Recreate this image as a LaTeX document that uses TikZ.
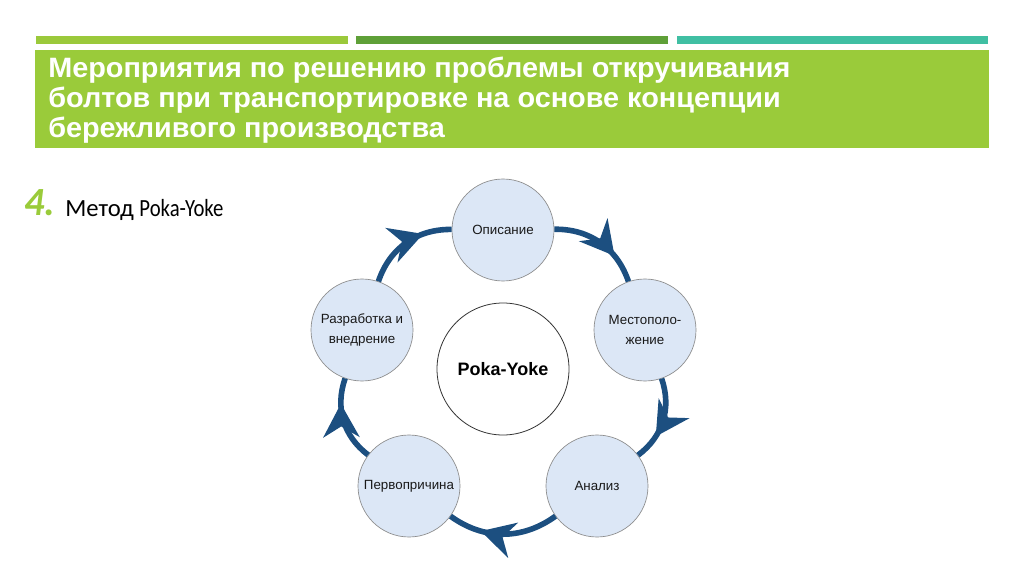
\documentclass[tikz,border=0pt]{standalone}
\usepackage{fontspec}
\setmainfont{Liberation Sans}
\newfontfamily\headfont[FakeStretch=1.03]{Liberation Sans Bold}
\newfontfamily\slidefont{Carlito}
\newfontfamily\narrowfont[FakeStretch=0.84]{Carlito}
\usetikzlibrary{arrows.meta,decorations.markings}

\definecolor{barlime}{HTML}{9BC93B}
\definecolor{bargreen}{HTML}{5FA038}
\definecolor{barteal}{HTML}{40BFA3}
\definecolor{headgreen}{HTML}{9ACB3A}
\definecolor{stagefill}{HTML}{DCE7F6}
\definecolor{cycleblue}{HTML}{1C4F80}

\begin{document}
\begin{tikzpicture}[x=0.75pt,y=-0.75pt,
    stage/.style ={circle, draw=black!45, line width=0.5pt, fill=stagefill,
                   minimum size=76.5pt, inner sep=1pt, align=center,
                   text=black!90, font=\fontsize{10}{15}\selectfont},
    core/.style ={circle, draw=black!80, line width=0.6pt, fill=white,
                  minimum size=99pt, font=\bfseries\fontsize{13.5}{16}\selectfont},
    cycle/.style ={line width=4.2pt, color=cycleblue, bend left=36,
                   postaction={decorate},
                   decoration={markings, mark=at position 0.7 with
                     {\arrow{Stealth[length=25pt,width=27pt,inset=8pt]}}}}]
   \path[fill=white] (0,0) rectangle (1024,574);
   \useasboundingbox (0,0) rectangle (1024,574);

   % header
   \fill[barlime]  (36,36)  rectangle (348,44);
   \fill[bargreen] (356,36) rectangle (668,44);
   \fill[barteal]  (677,36) rectangle (988,44);
   \fill[headgreen] (35,50) rectangle (989,148);
   \node[anchor=base west, align=left, inner sep=0, text=white,
         font=\headfont\fontsize{21}{22.5}\selectfont] (title) at (48,138)
     {Мероприятия по решению проблемы откручивания\\
      болтов при транспортировке на основе концепции\\
      бережливого производства};

   \node[anchor=base west, inner sep=0, text=headgreen,
         font=\slidefont\bfseries\itshape\fontsize{30}{34}\selectfont] (num) at (24,215) {4.};
   \node[anchor=base west, inner sep=0,
         font=\slidefont\fontsize{18.5}{22}\selectfont] (method) at (65,216)
     {Метод {\narrowfont Poka-Yoke}};

   % cycle
   \node[core]  (P) at (503,369) {Poka-Yoke};
   \node[stage] (A) at (503,230) {Описание};
   \node[stage] (B) at (645,330) {Местополо-\\жение};
   \node[stage] (C) at (597,486) {Анализ};
   \node[stage] (D) at (409,486) {Первопричина};
   \node[stage] (E) at (362,330) {Разработка и\\внедрение};

   \draw[cycle] (A) to (B);
   \draw[cycle] (B) to (C);
   \draw[cycle] (C) to (D);
   \draw[cycle] (D) to (E);
   \draw[cycle] (E) to (A);
 \end{tikzpicture}
\end{document}
